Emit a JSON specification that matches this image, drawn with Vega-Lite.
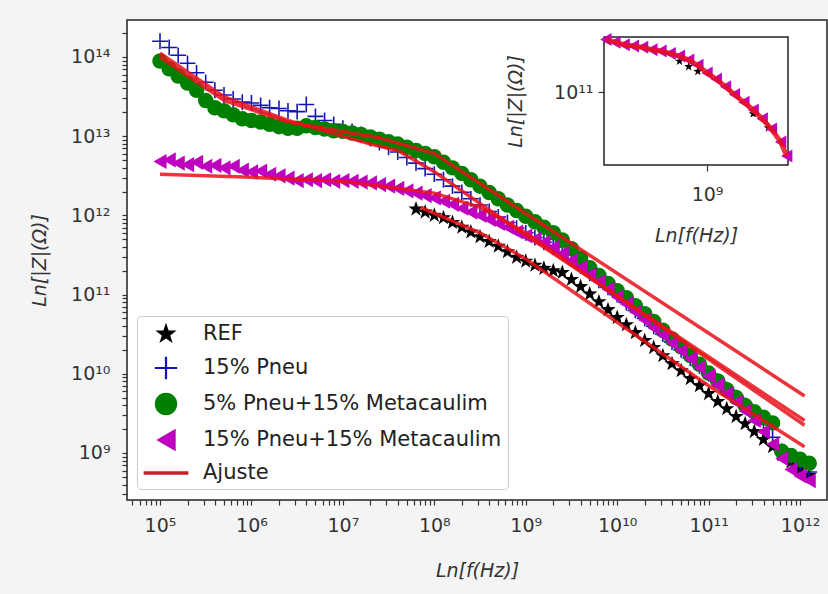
{
  "$schema": "https://vega.github.io/schema/vega-lite/v6.json",
  "width": 700,
  "height": 480,
  "autosize": {"type": "none"},
  "padding": {"left": 127, "top": 20, "right": 1, "bottom": 94},
  "background": "#f4f4f4",
  "config": {
    "view": {"stroke": "#222222", "strokeWidth": 1.5, "fill": "white"},
    "axis": {"labelFont": "DejaVu Sans", "titleFont": "DejaVu Sans", "titleFontWeight": "normal", "labelColor": "#333333", "titleColor": "#333333", "tickColor": "#333333", "tickWidth": 1.2, "domain": false, "grid": false, "labelOverlap": false, "labelFlush": false, "labelBound": false, "labelFontSize": 19, "titleFontSize": 19, "titleFontStyle": "italic"}
  },
  "layer": [
    {
      "data": {"values": [
        {"series":"REF","f":6.31e7,"Z":1.2e12},{"series":"REF","f":7.94e7,"Z":1.1e12},{"series":"REF","f":1e8,"Z":1e12},{"series":"REF","f":1.26e8,"Z":9.33e11},{"series":"REF","f":1.58e8,"Z":8.13e11},{"series":"REF","f":2e8,"Z":7.08e11},{"series":"REF","f":2.51e8,"Z":6.17e11},{"series":"REF","f":3.16e8,"Z":5.37e11},{"series":"REF","f":3.98e8,"Z":4.68e11},{"series":"REF","f":5.01e8,"Z":4.07e11},{"series":"REF","f":6.31e8,"Z":3.47e11},{"series":"REF","f":7.94e8,"Z":2.95e11},{"series":"REF","f":1e9,"Z":2.63e11},{"series":"REF","f":1.26e9,"Z":2.34e11},{"series":"REF","f":1.58e9,"Z":2.14e11},{"series":"REF","f":2e9,"Z":2e11},{"series":"REF","f":2.51e9,"Z":1.9e11},{"series":"REF","f":3.16e9,"Z":1.55e11},{"series":"REF","f":3.98e9,"Z":1.26e11},{"series":"REF","f":5.01e9,"Z":1.02e11},{"series":"REF","f":6.31e9,"Z":8.1e10},{"series":"REF","f":7.94e9,"Z":6.44e10},{"series":"REF","f":1e10,"Z":5.12e10},{"series":"REF","f":1.26e10,"Z":4.16e10},{"series":"REF","f":1.58e10,"Z":3.3e10},{"series":"REF","f":2e10,"Z":2.63e10},{"series":"REF","f":2.51e10,"Z":2.14e10},{"series":"REF","f":3.16e10,"Z":1.69e10},{"series":"REF","f":3.98e10,"Z":1.34e10},{"series":"REF","f":5.01e10,"Z":1.09e10},{"series":"REF","f":6.31e10,"Z":8.69e9},{"series":"REF","f":7.94e10,"Z":7.07e9},{"series":"REF","f":1e11,"Z":5.62e9},{"series":"REF","f":1.26e11,"Z":4.46e9},{"series":"REF","f":1.58e11,"Z":3.62e9},{"series":"REF","f":2e11,"Z":2.88e9},{"series":"REF","f":2.51e11,"Z":2.34e9},{"series":"REF","f":3.16e11,"Z":1.86e9},{"series":"REF","f":3.98e11,"Z":1.48e9},{"series":"REF","f":5.01e11,"Z":1.2e9},{"series":"REF","f":6.31e11,"Z":9.5e8},{"series":"REF","f":7.94e11,"Z":7.75e8},{"series":"REF","f":1e12,"Z":6.3e8},{"series":"REF","f":1.26e12,"Z":5.2e8},

        {"series":"15% Pneu","f":1e5,"Z":1.58e14},{"series":"15% Pneu","f":1.26e5,"Z":1.32e14},{"series":"15% Pneu","f":1.58e5,"Z":1.05e14},{"series":"15% Pneu","f":2e5,"Z":8.32e13},{"series":"15% Pneu","f":2.51e5,"Z":6.31e13},{"series":"15% Pneu","f":3.16e5,"Z":4.79e13},{"series":"15% Pneu","f":3.98e5,"Z":3.8e13},{"series":"15% Pneu","f":5.01e5,"Z":3.31e13},{"series":"15% Pneu","f":6.31e5,"Z":2.95e13},{"series":"15% Pneu","f":7.94e5,"Z":2.69e13},{"series":"15% Pneu","f":1e6,"Z":2.63e13},{"series":"15% Pneu","f":1.26e6,"Z":2.45e13},{"series":"15% Pneu","f":1.58e6,"Z":2.29e13},{"series":"15% Pneu","f":2e6,"Z":2.24e13},{"series":"15% Pneu","f":2.51e6,"Z":2.09e13},{"series":"15% Pneu","f":3.16e6,"Z":2.04e13},{"series":"15% Pneu","f":3.98e6,"Z":2.51e13},{"series":"15% Pneu","f":5.01e6,"Z":1.78e13},{"series":"15% Pneu","f":6.31e6,"Z":1.58e13},{"series":"15% Pneu","f":7.94e6,"Z":1.41e13},{"series":"15% Pneu","f":1e7,"Z":1.26e13},{"series":"15% Pneu","f":1.26e7,"Z":1.15e13},{"series":"15% Pneu","f":1.58e7,"Z":1.05e13},{"series":"15% Pneu","f":2e7,"Z":9.33e12},{"series":"15% Pneu","f":2.51e7,"Z":8.32e12},{"series":"15% Pneu","f":3.16e7,"Z":7.24e12},{"series":"15% Pneu","f":3.98e7,"Z":6.31e12},{"series":"15% Pneu","f":5.01e7,"Z":5.37e12},{"series":"15% Pneu","f":6.31e7,"Z":4.57e12},{"series":"15% Pneu","f":7.94e7,"Z":3.89e12},{"series":"15% Pneu","f":1e8,"Z":3.31e12},{"series":"15% Pneu","f":1.26e8,"Z":2.82e12},{"series":"15% Pneu","f":1.58e8,"Z":2.34e12},{"series":"15% Pneu","f":2e8,"Z":1.95e12},{"series":"15% Pneu","f":2.51e8,"Z":1.62e12},{"series":"15% Pneu","f":3.16e8,"Z":1.35e12},{"series":"15% Pneu","f":3.98e8,"Z":1.12e12},{"series":"15% Pneu","f":5.01e8,"Z":9.55e11},{"series":"15% Pneu","f":6.31e8,"Z":8.13e11},{"series":"15% Pneu","f":7.94e8,"Z":6.92e11},{"series":"15% Pneu","f":1e9,"Z":6.03e11},{"series":"15% Pneu","f":1.26e9,"Z":5.25e11},{"series":"15% Pneu","f":1.58e9,"Z":4.57e11},{"series":"15% Pneu","f":2e9,"Z":3.98e11},{"series":"15% Pneu","f":2.51e9,"Z":3.39e11},{"series":"15% Pneu","f":3.16e9,"Z":2.82e11},{"series":"15% Pneu","f":3.98e9,"Z":2.29e11},{"series":"15% Pneu","f":5.01e9,"Z":1.86e11},{"series":"15% Pneu","f":6.31e9,"Z":1.51e11},{"series":"15% Pneu","f":7.94e9,"Z":1.23e11},{"series":"15% Pneu","f":1e10,"Z":1e11},{"series":"15% Pneu","f":1.26e10,"Z":7.94e10},{"series":"15% Pneu","f":1.58e10,"Z":6.31e10},{"series":"15% Pneu","f":2e10,"Z":5.01e10},{"series":"15% Pneu","f":2.51e10,"Z":3.98e10},{"series":"15% Pneu","f":3.16e10,"Z":3.16e10},{"series":"15% Pneu","f":3.98e10,"Z":2.51e10},{"series":"15% Pneu","f":5.01e10,"Z":2e10},{"series":"15% Pneu","f":6.31e10,"Z":1.58e10},{"series":"15% Pneu","f":7.94e10,"Z":1.26e10},{"series":"15% Pneu","f":1e11,"Z":1e10},{"series":"15% Pneu","f":1.26e11,"Z":7.94e9},{"series":"15% Pneu","f":1.58e11,"Z":6.31e9},{"series":"15% Pneu","f":2e11,"Z":5.01e9},{"series":"15% Pneu","f":2.51e11,"Z":3.98e9},{"series":"15% Pneu","f":3.16e11,"Z":3.02e9},{"series":"15% Pneu","f":3.98e11,"Z":2.29e9},{"series":"15% Pneu","f":5.01e11,"Z":1.58e9},{"series":"15% Pneu","f":6.31e11,"Z":1.05e9},{"series":"15% Pneu","f":7.94e11,"Z":7.94e8},{"series":"15% Pneu","f":1e12,"Z":6.61e8},{"series":"15% Pneu","f":1.26e12,"Z":5.75e8},

        {"series":"5% Pneu+15% Metacaulim","f":1e5,"Z":8.91e13},{"series":"5% Pneu+15% Metacaulim","f":1.26e5,"Z":7.08e13},{"series":"5% Pneu+15% Metacaulim","f":1.58e5,"Z":5.75e13},{"series":"5% Pneu+15% Metacaulim","f":2e5,"Z":4.68e13},{"series":"5% Pneu+15% Metacaulim","f":2.51e5,"Z":3.8e13},{"series":"5% Pneu+15% Metacaulim","f":3.16e5,"Z":2.82e13},{"series":"5% Pneu+15% Metacaulim","f":3.98e5,"Z":2.29e13},{"series":"5% Pneu+15% Metacaulim","f":5.01e5,"Z":2.09e13},{"series":"5% Pneu+15% Metacaulim","f":6.31e5,"Z":1.86e13},{"series":"5% Pneu+15% Metacaulim","f":7.94e5,"Z":1.66e13},{"series":"5% Pneu+15% Metacaulim","f":1e6,"Z":1.58e13},{"series":"5% Pneu+15% Metacaulim","f":1.26e6,"Z":1.51e13},{"series":"5% Pneu+15% Metacaulim","f":1.58e6,"Z":1.41e13},{"series":"5% Pneu+15% Metacaulim","f":2e6,"Z":1.32e13},{"series":"5% Pneu+15% Metacaulim","f":2.51e6,"Z":1.26e13},{"series":"5% Pneu+15% Metacaulim","f":3.16e6,"Z":1.26e13},{"series":"5% Pneu+15% Metacaulim","f":3.98e6,"Z":1.35e13},{"series":"5% Pneu+15% Metacaulim","f":5.01e6,"Z":1.29e13},{"series":"5% Pneu+15% Metacaulim","f":6.31e6,"Z":1.23e13},{"series":"5% Pneu+15% Metacaulim","f":7.94e6,"Z":1.17e13},{"series":"5% Pneu+15% Metacaulim","f":1e7,"Z":1.15e13},{"series":"5% Pneu+15% Metacaulim","f":1.26e7,"Z":1.1e13},{"series":"5% Pneu+15% Metacaulim","f":1.58e7,"Z":1.05e13},{"series":"5% Pneu+15% Metacaulim","f":2e7,"Z":9.77e12},{"series":"5% Pneu+15% Metacaulim","f":2.51e7,"Z":9.12e12},{"series":"5% Pneu+15% Metacaulim","f":3.16e7,"Z":8.51e12},{"series":"5% Pneu+15% Metacaulim","f":3.98e7,"Z":7.94e12},{"series":"5% Pneu+15% Metacaulim","f":5.01e7,"Z":7.24e12},{"series":"5% Pneu+15% Metacaulim","f":6.31e7,"Z":6.61e12},{"series":"5% Pneu+15% Metacaulim","f":7.94e7,"Z":6.03e12},{"series":"5% Pneu+15% Metacaulim","f":1e8,"Z":5.5e12},{"series":"5% Pneu+15% Metacaulim","f":1.26e8,"Z":4.68e12},{"series":"5% Pneu+15% Metacaulim","f":1.58e8,"Z":3.98e12},{"series":"5% Pneu+15% Metacaulim","f":2e8,"Z":3.39e12},{"series":"5% Pneu+15% Metacaulim","f":2.51e8,"Z":2.82e12},{"series":"5% Pneu+15% Metacaulim","f":3.16e8,"Z":2.34e12},{"series":"5% Pneu+15% Metacaulim","f":3.98e8,"Z":1.95e12},{"series":"5% Pneu+15% Metacaulim","f":5.01e8,"Z":1.62e12},{"series":"5% Pneu+15% Metacaulim","f":6.31e8,"Z":1.35e12},{"series":"5% Pneu+15% Metacaulim","f":7.94e8,"Z":1.15e12},{"series":"5% Pneu+15% Metacaulim","f":1e9,"Z":9.77e11},{"series":"5% Pneu+15% Metacaulim","f":1.26e9,"Z":8.32e11},{"series":"5% Pneu+15% Metacaulim","f":1.58e9,"Z":7.08e11},{"series":"5% Pneu+15% Metacaulim","f":2e9,"Z":6.03e11},{"series":"5% Pneu+15% Metacaulim","f":2.51e9,"Z":4.9e11},{"series":"5% Pneu+15% Metacaulim","f":3.16e9,"Z":3.8e11},{"series":"5% Pneu+15% Metacaulim","f":3.98e9,"Z":2.88e11},{"series":"5% Pneu+15% Metacaulim","f":5.01e9,"Z":2.19e11},{"series":"5% Pneu+15% Metacaulim","f":6.31e9,"Z":1.74e11},{"series":"5% Pneu+15% Metacaulim","f":7.94e9,"Z":1.38e11},{"series":"5% Pneu+15% Metacaulim","f":1e10,"Z":1.12e11},{"series":"5% Pneu+15% Metacaulim","f":1.26e10,"Z":9.12e10},{"series":"5% Pneu+15% Metacaulim","f":1.58e10,"Z":7.24e10},{"series":"5% Pneu+15% Metacaulim","f":2e10,"Z":5.75e10},{"series":"5% Pneu+15% Metacaulim","f":2.51e10,"Z":4.57e10},{"series":"5% Pneu+15% Metacaulim","f":3.16e10,"Z":3.55e10},{"series":"5% Pneu+15% Metacaulim","f":3.98e10,"Z":2.75e10},{"series":"5% Pneu+15% Metacaulim","f":5.01e10,"Z":2.19e10},{"series":"5% Pneu+15% Metacaulim","f":6.31e10,"Z":1.7e10},{"series":"5% Pneu+15% Metacaulim","f":7.94e10,"Z":1.32e10},{"series":"5% Pneu+15% Metacaulim","f":1e11,"Z":1.02e10},{"series":"5% Pneu+15% Metacaulim","f":1.26e11,"Z":8.13e9},{"series":"5% Pneu+15% Metacaulim","f":1.58e11,"Z":6.31e9},{"series":"5% Pneu+15% Metacaulim","f":2e11,"Z":5.01e9},{"series":"5% Pneu+15% Metacaulim","f":2.51e11,"Z":3.98e9},{"series":"5% Pneu+15% Metacaulim","f":3.16e11,"Z":3.31e9},{"series":"5% Pneu+15% Metacaulim","f":3.98e11,"Z":2.82e9},{"series":"5% Pneu+15% Metacaulim","f":5.01e11,"Z":2.4e9},{"series":"5% Pneu+15% Metacaulim","f":6.31e11,"Z":1.05e9},{"series":"5% Pneu+15% Metacaulim","f":7.94e11,"Z":9.33e8},{"series":"5% Pneu+15% Metacaulim","f":1e12,"Z":8.32e8},{"series":"5% Pneu+15% Metacaulim","f":1.26e12,"Z":7.41e8},

        {"series":"15% Pneu+15% Metacaulim","f":1e5,"Z":4.79e12},{"series":"15% Pneu+15% Metacaulim","f":1.26e5,"Z":5.01e12},{"series":"15% Pneu+15% Metacaulim","f":1.58e5,"Z":4.57e12},{"series":"15% Pneu+15% Metacaulim","f":2e5,"Z":4.37e12},{"series":"15% Pneu+15% Metacaulim","f":2.51e5,"Z":4.68e12},{"series":"15% Pneu+15% Metacaulim","f":3.16e5,"Z":4.17e12},{"series":"15% Pneu+15% Metacaulim","f":3.98e5,"Z":4.27e12},{"series":"15% Pneu+15% Metacaulim","f":5.01e5,"Z":3.98e12},{"series":"15% Pneu+15% Metacaulim","f":6.31e5,"Z":4.17e12},{"series":"15% Pneu+15% Metacaulim","f":7.94e5,"Z":3.72e12},{"series":"15% Pneu+15% Metacaulim","f":1e6,"Z":3.55e12},{"series":"15% Pneu+15% Metacaulim","f":1.26e6,"Z":3.63e12},{"series":"15% Pneu+15% Metacaulim","f":1.58e6,"Z":3.31e12},{"series":"15% Pneu+15% Metacaulim","f":2e6,"Z":3.16e12},{"series":"15% Pneu+15% Metacaulim","f":2.51e6,"Z":2.95e12},{"series":"15% Pneu+15% Metacaulim","f":3.16e6,"Z":2.75e12},{"series":"15% Pneu+15% Metacaulim","f":3.98e6,"Z":2.82e12},{"series":"15% Pneu+15% Metacaulim","f":5.01e6,"Z":2.75e12},{"series":"15% Pneu+15% Metacaulim","f":6.31e6,"Z":2.82e12},{"series":"15% Pneu+15% Metacaulim","f":7.94e6,"Z":2.69e12},{"series":"15% Pneu+15% Metacaulim","f":1e7,"Z":2.75e12},{"series":"15% Pneu+15% Metacaulim","f":1.26e7,"Z":2.69e12},{"series":"15% Pneu+15% Metacaulim","f":1.58e7,"Z":2.63e12},{"series":"15% Pneu+15% Metacaulim","f":2e7,"Z":2.57e12},{"series":"15% Pneu+15% Metacaulim","f":2.51e7,"Z":2.45e12},{"series":"15% Pneu+15% Metacaulim","f":3.16e7,"Z":2.34e12},{"series":"15% Pneu+15% Metacaulim","f":3.98e7,"Z":2.19e12},{"series":"15% Pneu+15% Metacaulim","f":5.01e7,"Z":2.04e12},{"series":"15% Pneu+15% Metacaulim","f":6.31e7,"Z":1.91e12},{"series":"15% Pneu+15% Metacaulim","f":7.94e7,"Z":1.78e12},{"series":"15% Pneu+15% Metacaulim","f":1e8,"Z":1.66e12},{"series":"15% Pneu+15% Metacaulim","f":1.26e8,"Z":1.51e12},{"series":"15% Pneu+15% Metacaulim","f":1.58e8,"Z":1.38e12},{"series":"15% Pneu+15% Metacaulim","f":2e8,"Z":1.23e12},{"series":"15% Pneu+15% Metacaulim","f":2.51e8,"Z":1.1e12},{"series":"15% Pneu+15% Metacaulim","f":3.16e8,"Z":1e12},{"series":"15% Pneu+15% Metacaulim","f":3.98e8,"Z":8.91e11},{"series":"15% Pneu+15% Metacaulim","f":5.01e8,"Z":7.94e11},{"series":"15% Pneu+15% Metacaulim","f":6.31e8,"Z":7.08e11},{"series":"15% Pneu+15% Metacaulim","f":7.94e8,"Z":6.17e11},{"series":"15% Pneu+15% Metacaulim","f":1e9,"Z":5.5e11},{"series":"15% Pneu+15% Metacaulim","f":1.26e9,"Z":5.01e11},{"series":"15% Pneu+15% Metacaulim","f":1.58e9,"Z":4.57e11},{"series":"15% Pneu+15% Metacaulim","f":2e9,"Z":3.98e11},{"series":"15% Pneu+15% Metacaulim","f":2.51e9,"Z":3.31e11},{"series":"15% Pneu+15% Metacaulim","f":3.16e9,"Z":2.69e11},{"series":"15% Pneu+15% Metacaulim","f":3.98e9,"Z":2.19e11},{"series":"15% Pneu+15% Metacaulim","f":5.01e9,"Z":1.78e11},{"series":"15% Pneu+15% Metacaulim","f":6.31e9,"Z":1.45e11},{"series":"15% Pneu+15% Metacaulim","f":7.94e9,"Z":1.17e11},{"series":"15% Pneu+15% Metacaulim","f":1e10,"Z":9.33e10},{"series":"15% Pneu+15% Metacaulim","f":1.26e10,"Z":7.59e10},{"series":"15% Pneu+15% Metacaulim","f":1.58e10,"Z":6.03e10},{"series":"15% Pneu+15% Metacaulim","f":2e10,"Z":4.79e10},{"series":"15% Pneu+15% Metacaulim","f":2.51e10,"Z":3.8e10},{"series":"15% Pneu+15% Metacaulim","f":3.16e10,"Z":3.09e10},{"series":"15% Pneu+15% Metacaulim","f":3.98e10,"Z":2.45e10},{"series":"15% Pneu+15% Metacaulim","f":5.01e10,"Z":1.95e10},{"series":"15% Pneu+15% Metacaulim","f":6.31e10,"Z":1.55e10},{"series":"15% Pneu+15% Metacaulim","f":7.94e10,"Z":1.2e10},{"series":"15% Pneu+15% Metacaulim","f":1e11,"Z":9.33e9},{"series":"15% Pneu+15% Metacaulim","f":1.26e11,"Z":7.24e9},{"series":"15% Pneu+15% Metacaulim","f":1.58e11,"Z":5.62e9},{"series":"15% Pneu+15% Metacaulim","f":2e11,"Z":4.37e9},{"series":"15% Pneu+15% Metacaulim","f":2.51e11,"Z":3.39e9},{"series":"15% Pneu+15% Metacaulim","f":3.16e11,"Z":2.57e9},{"series":"15% Pneu+15% Metacaulim","f":3.98e11,"Z":1.86e9},{"series":"15% Pneu+15% Metacaulim","f":5.01e11,"Z":1.29e9},{"series":"15% Pneu+15% Metacaulim","f":6.31e11,"Z":8.51e8},{"series":"15% Pneu+15% Metacaulim","f":7.94e11,"Z":6.17e8},{"series":"15% Pneu+15% Metacaulim","f":1e12,"Z":5.13e8},{"series":"15% Pneu+15% Metacaulim","f":1.26e12,"Z":4.47e8},

        {"series":"Ajuste","fit":"1","f":1e5,"Z":1e14},{"series":"Ajuste","fit":"1","f":5.01e5,"Z":2.82e13},{"series":"Ajuste","fit":"1","f":2.51e6,"Z":1.51e13},{"series":"Ajuste","fit":"1","f":2.51e7,"Z":9.55e12},{"series":"Ajuste","fit":"1","f":1e8,"Z":6.03e12},{"series":"Ajuste","fit":"1","f":1.12e12,"Z":5.25e9},
        {"series":"Ajuste","fit":"2","f":1e5,"Z":1.12e14},{"series":"Ajuste","fit":"2","f":5.01e5,"Z":3.16e13},{"series":"Ajuste","fit":"2","f":2.51e6,"Z":1.58e13},{"series":"Ajuste","fit":"2","f":2e7,"Z":7.94e12},{"series":"Ajuste","fit":"2","f":3.98e7,"Z":6.61e12},{"series":"Ajuste","fit":"2","f":1e8,"Z":3.55e12},{"series":"Ajuste","fit":"2","f":1e9,"Z":5.62e11},{"series":"Ajuste","fit":"2","f":1.12e12,"Z":2.57e9},
        {"series":"Ajuste","fit":"3","f":1e5,"Z":3.31e12},{"series":"Ajuste","fit":"3","f":1e6,"Z":3.02e12},{"series":"Ajuste","fit":"3","f":1e7,"Z":2.69e12},{"series":"Ajuste","fit":"3","f":1e8,"Z":1.91e12},{"series":"Ajuste","fit":"3","f":3.16e8,"Z":1.26e12},{"series":"Ajuste","fit":"3","f":1e9,"Z":6.03e11},{"series":"Ajuste","fit":"3","f":3.16e9,"Z":2.4e11},{"series":"Ajuste","fit":"3","f":1.12e12,"Z":2.24e9},
        {"series":"Ajuste","fit":"4","f":7.08e7,"Z":1.26e12},{"series":"Ajuste","fit":"4","f":3.16e8,"Z":6.03e11},{"series":"Ajuste","fit":"4","f":1e9,"Z":2.82e11},{"series":"Ajuste","fit":"4","f":1e10,"Z":4.47e10},{"series":"Ajuste","fit":"4","f":1e11,"Z":7.08e9},{"series":"Ajuste","fit":"4","f":1.12e12,"Z":1.2e9}
      ]},
      "encoding": {
        "x": {"field": "f", "type": "quantitative",
          "scale": {"type": "log", "domain": [4.355e4, 1.972e12], "nice": false},
          "axis": {"orient": "bottom", "title": "Ln[f(Hz)]", "labelPadding": 11, "titlePadding": 26, "tickSize": 5,
            "values": [5e4,6e4,7e4,8e4,9e4,1e5,2e5,3e5,4e5,5e5,6e5,7e5,8e5,9e5,1e6,2e6,3e6,4e6,5e6,6e6,7e6,8e6,9e6,1e7,2e7,3e7,4e7,5e7,6e7,7e7,8e7,9e7,1e8,2e8,3e8,4e8,5e8,6e8,7e8,8e8,9e8,1e9,2e9,3e9,4e9,5e9,6e9,7e9,8e9,9e9,1e10,2e10,3e10,4e10,5e10,6e10,7e10,8e10,9e10,1e11,2e11,3e11,4e11,5e11,6e11,7e11,8e11,9e11,1e12],
            "labelExpr": "abs(log(datum.value)/LN10 - round(log(datum.value)/LN10)) < 0.01 ? '10' + (round(log(datum.value)/LN10) >= 10 ? '¹' + substring('⁰¹²³⁴⁵⁶⁷⁸⁹', round(log(datum.value)/LN10) - 10, round(log(datum.value)/LN10) - 9) : substring('⁰¹²³⁴⁵⁶⁷⁸⁹', round(log(datum.value)/LN10), round(log(datum.value)/LN10) + 1)) : ''"}},
        "y": {"field": "Z", "type": "quantitative",
          "scale": {"type": "log", "domain": [2.55e8, 2.93e14], "nice": false},
          "axis": {"orient": "left", "title": "Ln[|Z|(Ω)]", "labelPadding": 12, "titlePadding": 21, "tickSize": 5,
            "values": [3e8,4e8,5e8,6e8,7e8,8e8,9e8,1e9,2e9,3e9,4e9,5e9,6e9,7e9,8e9,9e9,1e10,2e10,3e10,4e10,5e10,6e10,7e10,8e10,9e10,1e11,2e11,3e11,4e11,5e11,6e11,7e11,8e11,9e11,1e12,2e12,3e12,4e12,5e12,6e12,7e12,8e12,9e12,1e13,2e13,3e13,4e13,5e13,6e13,7e13,8e13,9e13,1e14,2e14],
            "labelExpr": "abs(log(datum.value)/LN10 - round(log(datum.value)/LN10)) < 0.01 ? '10' + (round(log(datum.value)/LN10) >= 10 ? '¹' + substring('⁰¹²³⁴⁵⁶⁷⁸⁹', round(log(datum.value)/LN10) - 10, round(log(datum.value)/LN10) - 9) : substring('⁰¹²³⁴⁵⁶⁷⁸⁹', round(log(datum.value)/LN10), round(log(datum.value)/LN10) + 1)) : ''"}}
      },
      "layer": [
        {
          "transform": [{"filter": "datum.series !== 'Ajuste'"}],
          "mark": {"type": "point", "filled": true, "opacity": 1},
          "encoding": {
            "color": {"field": "series", "type": "nominal",
              "scale": {"domain": ["REF", "15% Pneu", "5% Pneu+15% Metacaulim", "15% Pneu+15% Metacaulim", "Ajuste"],
                        "range": ["#000000", "#1414b4", "#008000", "#bf00bf", "#c8202a"]},
              "legend": {"orient": "none", "legendX": 10, "legendY": 296, "title": null,
                "labelFontSize": 21, "labelFont": "DejaVu Sans", "labelColor": "#222222", "labelLimit": 500,
                "padding": 6, "symbolSize": 500, "symbolOffset": 11, "labelOffset": 25, "rowPadding": 6,
                "fillColor": "white", "strokeColor": "#cccccc", "cornerRadius": 4, "symbolOpacity": 1}},
            "shape": {"field": "series", "type": "nominal",
              "scale": {"domain": ["REF", "15% Pneu", "5% Pneu+15% Metacaulim", "15% Pneu+15% Metacaulim", "Ajuste"],
                        "range": ["M0,-1L0.235,-0.324L0.951,-0.309L0.38,0.124L0.588,0.809L0,0.4L-0.588,0.809L-0.38,0.124L-0.951,-0.309L-0.235,-0.324Z", "M-1,-0.1H-0.1V-1H0.1V-0.1H1V0.1H0.1V1H-0.1V0.1H-1Z", "circle", "triangle-left", "M-2,-0.15H2V0.15H-2Z"]}},
            "size": {"field": "series", "type": "nominal",
              "scale": {"domain": ["REF", "15% Pneu", "5% Pneu+15% Metacaulim", "15% Pneu+15% Metacaulim"],
                        "range": [260, 230, 560, 430]}, "legend": null}
          }
        },
        {
          "transform": [{"filter": "datum.series === 'Ajuste'"}],
          "mark": {"type": "line", "color": "#e8101a", "opacity": 0.85, "strokeWidth": 3.5},
          "encoding": {"detail": {"field": "fit", "type": "nominal"}}
        }
      ]
    },
    {
      "layer": [
        {
          "data": {"values": [{"box": "inset"}]},
          "mark": {"type": "rect", "fill": "white", "stroke": "#222222", "strokeWidth": 1.5},
          "encoding": {
            "x": {"datum": 2.128e8, "type": "quantitative",
              "scale": {"type": "log", "domain": [2.128e8, 3.373e9], "range": [477, 661], "nice": false},
              "axis": {"orient": "bottom", "offset": -335, "values": [1e9], "labelExpr": "'10⁹'", "title": "Ln[f(Hz)]", "tickSize": 6, "labelPadding": 14, "titlePadding": 22}},
            "x2": {"datum": 3.373e9},
            "y": {"datum": 2.69e10, "type": "quantitative",
              "scale": {"type": "log", "domain": [2.69e10, 2.69e11], "range": [145, 17], "nice": false},
              "axis": {"orient": "left", "offset": -477, "values": [1e11], "labelExpr": "'10¹¹'", "title": "Ln[|Z|(Ω)]", "tickSize": 6, "labelPadding": 5, "titlePadding": 28}},
            "y2": {"datum": 2.69e11}
          }
        },
        {
          "data": {"values": [
            {"f":6.61e8,"Z":1.74e11},{"f":7.59e8,"Z":1.58e11},{"f":8.71e8,"Z":1.45e11},{"f":2e9,"Z":6.76e10},{"f":2.51e9,"Z":5.25e10}
          ]},
          "mark": {"type": "point", "shape": "M0,-1L0.235,-0.324L0.951,-0.309L0.38,0.124L0.588,0.809L0,0.4L-0.588,0.809L-0.38,0.124L-0.951,-0.309L-0.235,-0.324Z", "filled": true, "color": "#000000", "opacity": 1, "size": 90},
          "encoding": {
            "x": {"field": "f", "type": "quantitative", "scale": {"type": "log", "domain": [2.128e8, 3.373e9], "range": [477, 661], "nice": false},
              "axis": {"orient": "bottom", "offset": -335, "values": [1e9], "labelExpr": "'10⁹'", "title": "Ln[f(Hz)]", "tickSize": 6, "labelPadding": 14, "titlePadding": 22}},
            "y": {"field": "Z", "type": "quantitative", "scale": {"type": "log", "domain": [2.69e10, 2.69e11], "range": [145, 17], "nice": false},
              "axis": {"orient": "left", "offset": -477, "values": [1e11], "labelExpr": "'10¹¹'", "title": "Ln[|Z|(Ω)]", "tickSize": 6, "labelPadding": 5, "titlePadding": 28}}
          }
        },
        {
          "data": {"values": [
            {"f":2.19e8,"Z":2.57e11},{"f":2.51e8,"Z":2.45e11},{"f":2.88e8,"Z":2.34e11},{"f":3.31e8,"Z":2.29e11},{"f":3.8e8,"Z":2.24e11},{"f":4.37e8,"Z":2.14e11},{"f":5.01e8,"Z":2.09e11},{"f":5.75e8,"Z":2e11},{"f":6.61e8,"Z":1.91e11},{"f":7.59e8,"Z":1.78e11},{"f":8.71e8,"Z":1.62e11},{"f":1e9,"Z":1.41e11},{"f":1.15e9,"Z":1.26e11},{"f":1.32e9,"Z":1.1e11},{"f":1.51e9,"Z":9.55e10},{"f":1.74e9,"Z":8.32e10},{"f":2e9,"Z":7.24e10},{"f":2.29e9,"Z":6.17e10},{"f":2.63e9,"Z":5.13e10},{"f":3.02e9,"Z":4.07e10},{"f":3.31e9,"Z":3.16e10}
          ]},
          "layer": [
            {"mark": {"type": "point", "shape": "triangle-left", "filled": true, "color": "#bf00bf", "opacity": 1, "size": 170},
             "encoding": {
              "x": {"field": "f", "type": "quantitative", "scale": {"type": "log", "domain": [2.128e8, 3.373e9], "range": [477, 661], "nice": false},
                "axis": {"orient": "bottom", "offset": -335, "values": [1e9], "labelExpr": "'10⁹'", "title": "Ln[f(Hz)]", "tickSize": 6, "labelPadding": 14, "titlePadding": 22}},
              "y": {"field": "Z", "type": "quantitative", "scale": {"type": "log", "domain": [2.69e10, 2.69e11], "range": [145, 17], "nice": false},
                "axis": {"orient": "left", "offset": -477, "values": [1e11], "labelExpr": "'10¹¹'", "title": "Ln[|Z|(Ω)]", "tickSize": 6, "labelPadding": 5, "titlePadding": 28}}
             }},
            {"mark": {"type": "line", "color": "#e8101a", "opacity": 0.85, "strokeWidth": 5},
             "encoding": {
              "x": {"field": "f", "type": "quantitative", "scale": {"type": "log", "domain": [2.128e8, 3.373e9], "range": [477, 661], "nice": false},
                "axis": {"orient": "bottom", "offset": -335, "values": [1e9], "labelExpr": "'10⁹'", "title": "Ln[f(Hz)]", "tickSize": 6, "labelPadding": 14, "titlePadding": 22}},
              "y": {"field": "Z", "type": "quantitative", "scale": {"type": "log", "domain": [2.69e10, 2.69e11], "range": [145, 17], "nice": false},
                "axis": {"orient": "left", "offset": -477, "values": [1e11], "labelExpr": "'10¹¹'", "title": "Ln[|Z|(Ω)]", "tickSize": 6, "labelPadding": 5, "titlePadding": 28}}
             }}
          ]
        }
      ]
    }
  ],
  "resolve": {"scale": {"x": "independent", "y": "independent"}}
}
